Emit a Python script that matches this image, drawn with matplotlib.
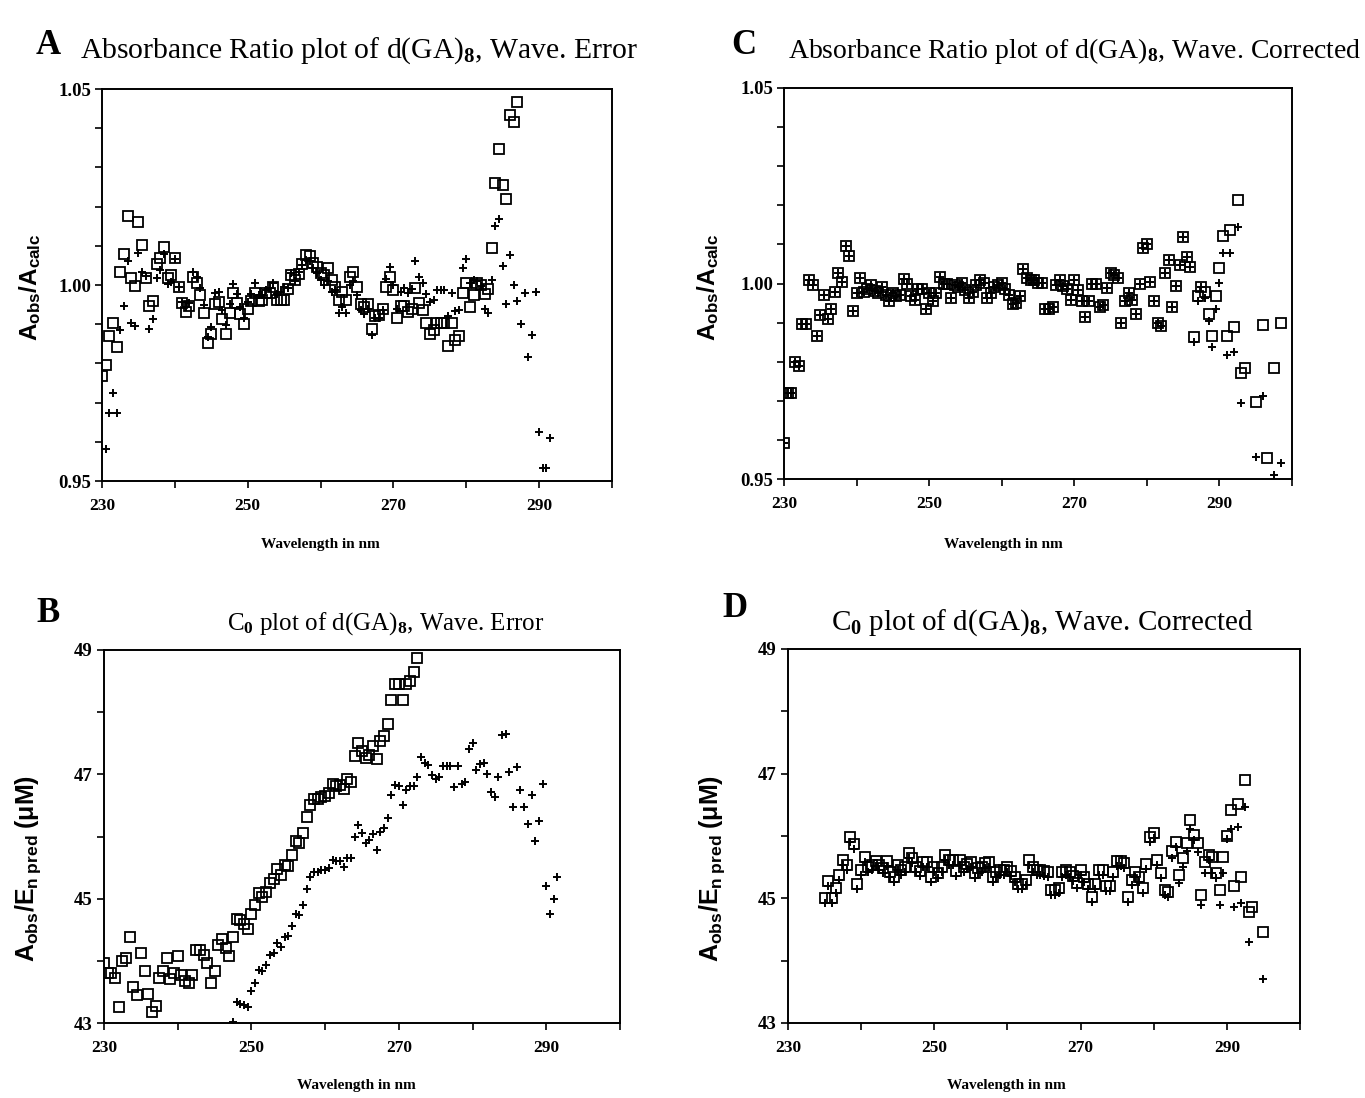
import numpy as np
import matplotlib
matplotlib.use("Agg")
import matplotlib.pyplot as plt
from matplotlib.ticker import MultipleLocator

plt.rcParams['font.family'] = ['Liberation Serif', 'DejaVu Serif']
plt.rcParams['mathtext.fontset'] = 'custom'
plt.rcParams['mathtext.rm'] = 'Liberation Serif'
plt.rcParams['mathtext.it'] = 'Liberation Serif:italic'
plt.rcParams['mathtext.bf'] = 'Liberation Serif:bold'
plt.rcParams['mathtext.sf'] = 'Liberation Sans:bold'

# ---------------- data (wavelength grid: 230 nm, 0.5 nm steps) ----------------
wl_start = 230.0
wl_step = 0.5

# Panel A: absorbance ratio, wavelength error
a_sq = [0.9769, 0.9795, 0.9869, 0.9903, 0.9842, 1.0034, 1.0080, 1.0175, 1.0017, 0.9998,
        1.0160, 1.0103, 1.0017, 0.9946, 0.9960, 1.0054, 1.0068, 1.0098, 1.0017, 1.0026,
        1.0068, 0.9996, 0.9955, 0.9932, 0.9946, 1.0020, 1.0006, 0.9974, 0.9929, 0.9851,
        0.9876, 0.9951, 0.9957, 0.9912, 0.9876, 0.9929, 0.9979, 0.9955, 0.9927, 0.9900,
        0.9938, 0.9960, 0.9979, 0.9960, 0.9962, 0.9979, 0.9979, 0.9996, 0.9962, 0.9962,
        0.9962, 0.9989, 1.0026, 1.0013, 1.0028, 1.0054, 1.0077, 1.0073, 1.0056, 1.0047,
        1.0030, 1.0026, 1.0043, 1.0013, 0.9996, 0.9962, 0.9983, 0.9962, 1.0021, 1.0034,
        0.9996, 0.9951, 0.9945, 0.9951, 0.9889, 0.9921, 0.9923, 0.9940, 0.9996, 1.0021,
        0.9986, 0.9917, 0.9946, 0.9946, 0.9932, 0.9938, 0.9992, 0.9955, 0.9936, 0.9903,
        0.9876, 0.9885, 0.9903, 0.9903, 0.9903, 0.9844, 0.9903, 0.9859, 0.9869, 0.9980,
        1.0006, 0.9943, 0.9974, 1.0006, 1.0000, 0.9977, 0.9989, 1.0094, 1.0259, 1.0346,
        1.0256, 1.0220, 1.0433, 1.0416, 1.0467]
a_plus = [np.nan, 0.9581, 0.9673, 0.9724, 0.9673, 0.9885, 0.9946, 1.0060, 0.9902, 0.9895,
          1.0081, 1.0032, 1.0022, 0.9889, 0.9912, 1.0017, 1.0039, 1.0080, 1.0003, 1.0007,
          1.0067, 0.9996, 0.9957, 0.9945, 0.9953, 1.0032, 1.0021, 0.9992, 0.9949, 0.9867,
          0.9893, 0.9979, 0.9983, 0.9936, 0.9897, 0.9951, 1.0003, 0.9977, 0.9945, 0.9917,
          0.9957, 0.9977, 1.0004, 0.9974, 0.9974, 0.9987, 0.9992, 1.0004, 0.9977, 0.9983,
          0.9996, 0.9992, 1.0030, 1.0009, 1.0034, 1.0051, 1.0064, 1.0060, 1.0043, 1.0030,
          1.0013, 1.0000, 1.0009, 0.9983, 0.9987, 0.9929, 0.9945, 0.9929, 1.0000, 1.0009,
          0.9974, 0.9936, 0.9927, 0.9940, 0.9872, 0.9917, 0.9917, 0.9936, 1.0015, 1.0047,
          1.0000, 0.9938, 0.9983, 0.9992, 0.9980, 0.9989, 1.0060, 1.0021, 1.0004, 0.9977,
          0.9957, 0.9962, 0.9986, 0.9986, 0.9986, 0.9921, 0.9980, 0.9934, 0.9936, 1.0043,
          1.0066, 1.0004, 1.0013, 1.0009, 0.9997, 0.9940, 0.9929, 1.0013, 1.0150, 1.0168,
          1.0049, 0.9951, 1.0077, 1.0000, 0.9960, 0.9900, 0.9980, 0.9816, 0.9872, 0.9983,
          0.9624, 0.9533, 0.9534, 0.9609]

# Panel C: absorbance ratio, wavelength corrected
c_sq = [0.9591, 0.9721, 0.9720, 0.9798, 0.9789, 0.9897, 0.9897, 1.0009, 0.9996, 0.9866,
        0.9920, 0.9971, 0.9910, 0.9936, 0.9979, 1.0026, 1.0004, 1.0096, 1.0070, 0.9930,
        0.9976, 1.0013, 0.9979, 0.9985, 0.9996, 0.9981, 0.9975, 0.9990, 0.9971, 0.9954,
        0.9975, 0.9967, 0.9971, 1.0011, 0.9999, 0.9967, 0.9958, 0.9985, 0.9985, 0.9936,
        0.9975, 0.9954, 0.9975, 1.0016, 0.9999, 0.9999, 0.9962, 0.9996, 0.9992, 1.0001,
        0.9983, 0.9962, 0.9979, 0.9996, 1.0009, 1.0001, 0.9962, 0.9975, 0.9990, 0.9996,
        1.0001, 0.9985, 0.9971, 0.9948, 0.9951, 0.9967, 1.0036, 1.0013, 1.0009, 1.0009,
        1.0001, 1.0002, 0.9934, 0.9934, 0.9941, 0.9996, 1.0008, 0.9994, 0.9985, 0.9958,
        1.0008, 0.9983, 0.9956, 0.9914, 0.9954, 0.9999, 0.9999, 0.9939, 0.9946, 0.9988,
        1.0026, 1.0021, 1.0014, 0.9900, 0.9956, 0.9976, 0.9958, 0.9922, 0.9999, 1.0090,
        1.0101, 1.0005, 0.9956, 0.9900, 0.9891, 1.0027, 1.0060, 0.9941, 0.9994, 1.0047,
        1.0118, 1.0068, 1.0041, 0.9864, 0.9969, 0.9990, 0.9979, 0.9923, 0.9866, 0.9969,
        1.0039, 1.0121, 0.9866, 1.0137, 0.9890, 1.0214, 0.9771, 0.9785, np.nan, np.nan,
        0.9698, np.nan, 0.9894, 0.9553, np.nan, 0.9783, np.nan, 0.9898]
# plus markers coincide with the squares up to ~286 nm, then diverge
c_plus = c_sq[:112] + [1.0041, 0.9851, 0.9954, 0.9990, 0.9962, 0.9903, 0.9838, 0.9936,
                       1.0002, 1.0079, 0.9818, 1.0079, 0.9825, 1.0144, 0.9694, np.nan,
                       np.nan, np.nan, 0.9557, np.nan, 0.9713, np.nan, np.nan, 0.9511,
                       np.nan, 0.9540]

# Panel B: C0 plot, wavelength error
b_sq = [43.97, 43.80, 43.80, 43.72, 43.25, 44.00, 44.05, 44.39, 43.58, 43.45,
        44.12, 43.84, 43.47, 43.17, 43.27, 43.72, 43.83, 44.04, 43.70, 43.81,
        44.08, 43.77, 43.68, 43.65, 43.77, 44.18, 44.18, 44.09, 43.96, 43.64,
        43.83, 44.25, 44.35, 44.20, 44.07, 44.39, 44.67, 44.66, 44.60, 44.52,
        44.76, 44.90, 45.09, 45.03, 45.11, 45.26, 45.31, 45.47, 45.38, 45.54,
        45.53, 45.70, 45.92, 45.90, 46.06, 46.32, 46.51, 46.60, 46.60, 46.64,
        46.65, 46.70, 46.84, 46.82, 46.83, 46.76, 46.92, 46.88, 47.29, 47.51,
        47.38, 47.26, 47.31, 47.45, 47.24, 47.53, 47.61, 47.81, 48.20, 48.45,
        48.45, 48.20, 48.45, 48.50, 48.64, 48.87]
b_plus = [np.nan] * 35 + [
        43.02, 43.34, 43.31, 43.29, 43.26, 43.52, 43.65, 43.85, 43.83, 43.93,
        44.09, 44.12, 44.29, 44.22, 44.39, 44.40, 44.56, 44.76, 44.74, 44.90,
        45.15, 45.35, 45.43, 45.43, 45.46, 45.46, 45.49, 45.63, 45.61, 45.60,
        45.51, 45.65, 45.65, 46.00, 46.18, 46.05, 45.89, 45.94, 46.04, 45.79,
        46.08, 46.13, 46.29, 46.67, 46.83, 46.81, 46.51, 46.75, 46.81, 46.81,
        46.96, 47.28, 47.18, 47.15, 46.99, 46.92, 46.95, 47.13, 47.13, 47.13,
        46.80, 47.13, 46.84, 46.87, 47.40, 47.50, 47.07, 47.17, 47.19, 47.01,
        46.71, 46.63, 46.95, 47.63, 47.65, 47.04, 46.48, 47.11, 46.74, 46.48,
        46.20, 46.67, 45.92, 46.25, 46.85, 45.20, 44.76, 44.99, 45.35]

# Panel D: C0 plot, wavelength corrected
d_sq = [np.nan] * 10 + [
        45.01, 45.28, 45.01, 45.17, 45.37, 45.62, 45.53, 45.99, 45.87, 45.23,
        45.46, 45.66, 45.50, 45.53, 45.60, 45.53, 45.48, 45.60, 45.43, 45.35,
        45.53, 45.46, 45.51, 45.72, 45.64, 45.51, 45.44, 45.59, 45.59, 45.34,
        45.51, 45.40, 45.51, 45.69, 45.61, 45.61, 45.44, 45.61, 45.51, 45.55,
        45.59, 45.40, 45.48, 45.51, 45.57, 45.59, 45.34, 45.43, 45.46, 45.46,
        45.51, 45.44, 45.34, 45.23, 45.23, 45.30, 45.62, 45.51, 45.46, 45.46,
        45.44, 45.42, 45.13, 45.13, 45.16, 45.43, 45.46, 45.43, 45.36, 45.24,
        45.46, 45.35, 45.23, 45.02, 45.23, 45.45, 45.45, 45.19, 45.20, 45.43,
        45.60, 45.60, 45.57, 45.02, 45.30, 45.43, 45.35, 45.17, 45.55, 45.99,
        46.05, 45.62, 45.40, 45.14, 45.10, 45.76, 45.91, 45.37, 45.64, 45.89,
        46.25, 46.02, 45.89, 45.05, 45.59, 45.69, 45.67, 45.40, 45.13, 45.67,
        46.00, 46.41, 45.19, 46.51, 45.34, 46.90, 44.78, 44.86, np.nan, np.nan,
        44.46]
d_plus = [np.nan] * 10 + [
        44.93, 45.20, 44.93, 45.09, 45.29, 45.54, 45.45, 45.91, 45.79, 45.15,
        45.38, 45.58, 45.42, 45.45, 45.52, 45.45, 45.40, 45.52, 45.35, 45.27,
        45.45, 45.38, 45.43, 45.64, 45.56, 45.43, 45.36, 45.51, 45.51, 45.26,
        45.43, 45.32, 45.43, 45.61, 45.53, 45.53, 45.36, 45.53, 45.43, 45.47,
        45.51, 45.32, 45.40, 45.43, 45.49, 45.51, 45.26, 45.35, 45.38, 45.38,
        45.43, 45.36, 45.26, 45.15, 45.15, 45.22, 45.54, 45.43, 45.38, 45.38,
        45.36, 45.34, 45.05, 45.05, 45.08, 45.35, 45.38, 45.35, 45.28, 45.16,
        45.38, 45.27, 45.15, 44.94, 45.15, 45.37, 45.37, 45.11, 45.12, 45.35,
        45.52, 45.52, 45.49, 44.94, 45.22, 45.35, 45.27, 45.09, 45.47, 45.91,
        45.97, 45.54, 45.32, 45.06, 45.02, 45.64, 45.83, 45.24, 45.51, 45.76,
        46.11, 45.94, 45.75, 44.89, 45.40, 45.62, 45.40, 45.32, 44.89, 45.40,
        45.95, 46.11, 44.86, 46.14, 44.93, 46.47, 44.30, np.nan, np.nan, np.nan,
        43.70]

x_major = [230, 250, 270, 290]

# ---------------- figure ----------------
W, H = 1365, 1098
fig = plt.figure(figsize=(W / 100, H / 100), dpi=100)
fig.patch.set_facecolor('white')


def fx(px):
    return px / W


def fy(py):
    return 1 - py / H


def box(l, t, r, b):
    return [fx(l), fy(b), (r - l) / W, (b - t) / H]


def wl_of(vals):
    return wl_start + wl_step * np.arange(len(vals))


def style(ax, ylim, ymaj, ymin, yfmt):
    ax.set_xlim(230, 300)
    ax.set_ylim(*ylim)
    ax.set_xticks(x_major)
    ax.xaxis.set_minor_locator(MultipleLocator(10))
    ax.set_yticks(ymaj)
    ax.yaxis.set_minor_locator(MultipleLocator(ymin))
    ax.set_yticklabels([yfmt.format(v) for v in ymaj])
    ax.tick_params(axis='both', which='both', direction='out', length=5,
                   width=1.2, top=False, right=False)
    ax.tick_params(axis='x', which='major', pad=7, labelsize=12.5)
    ax.tick_params(axis='y', which='major', pad=3, labelsize=13.5)
    for lab in ax.get_xticklabels() + ax.get_yticklabels():
        lab.set_fontweight('bold')
    for s in ax.spines.values():
        s.set_linewidth(1.4)


def draw(ax, sq, pl):
    ax.plot(wl_of(sq), sq, linestyle='none', marker='s', ms=7, mfc='none',
            mec='black', mew=1.3, clip_on=True)
    ax.plot(wl_of(pl), pl, linestyle='none', marker='+', ms=5.5,
            mec='black', mew=1.4, clip_on=True)


axA = fig.add_axes(box(102, 89, 612, 481))
axC = fig.add_axes(box(784, 88, 1292, 479))
axB = fig.add_axes(box(104, 650, 620, 1023))
axD = fig.add_axes(box(788, 649, 1300, 1023))

draw(axA, a_sq, a_plus)
draw(axC, c_sq, c_plus)
draw(axB, b_sq, b_plus)
draw(axD, d_sq, d_plus)

for ax in (axA, axC):
    style(ax, (0.95, 1.05), [0.95, 1.00, 1.05], 0.01, '{:.2f}')
for ax in (axB, axD):
    style(ax, (43, 49), [43, 45, 47, 49], 1, '{:.0f}')

# ---------------- texts ----------------
letter_fs = 25
fig.text(fx(36), fy(54), 'A', fontsize=letter_fs, fontweight='bold', va='baseline')
fig.text(fx(80), fy(58), r'Absorbance Ratio plot of d(GA)$_{\mathbf{8}}$, Wave. Error',
         fontsize=21.3, va='baseline')
fig.text(fx(731), fy(54), 'C', fontsize=letter_fs, fontweight='bold', va='baseline')
fig.text(fx(788), fy(58), r'Absorbance Ratio plot of d(GA)$_{\mathbf{8}}$, Wave. Corrected',
         fontsize=20, va='baseline')
fig.text(fx(36), fy(622), 'B', fontsize=letter_fs, fontweight='bold', va='baseline')
fig.text(fx(386), fy(630), r'C$_{\mathbf{0}}$ plot of d(GA)$_{\mathbf{8}}$, Wave. Error',
         fontsize=18, va='baseline', ha='center')
fig.text(fx(722), fy(617), 'D', fontsize=letter_fs, fontweight='bold', va='baseline')
fig.text(fx(1042), fy(630), r'C$_{\mathbf{0}}$ plot of d(GA)$_{\mathbf{8}}$, Wave. Corrected',
         fontsize=21, va='baseline', ha='center')

ylab_ratio = r'$\mathsf{A_{obs}/A_{calc}}$'
ylab_conc = r'$\mathsf{A_{obs}/E_{n\ pred}\ (\mu M)}$'
fig.text(fx(30), fy(287), ylab_ratio, rotation=90, fontsize=17.5, ha='center', va='center')
fig.text(fx(708), fy(287), ylab_ratio, rotation=90, fontsize=17.5, ha='center', va='center')
fig.text(fx(28), fy(868), ylab_conc, rotation=90, fontsize=18, ha='center', va='center')
fig.text(fx(712), fy(868), ylab_conc, rotation=90, fontsize=18, ha='center', va='center')

xlab = 'Wavelength in nm'
for (px, py) in [(320, 545), (1003, 545), (356, 1086), (1006, 1086)]:
    fig.text(fx(px), fy(py), xlab, fontsize=11, fontweight='bold', ha='center', va='center')

fig.savefig('out.png', dpi=100, facecolor='white')
